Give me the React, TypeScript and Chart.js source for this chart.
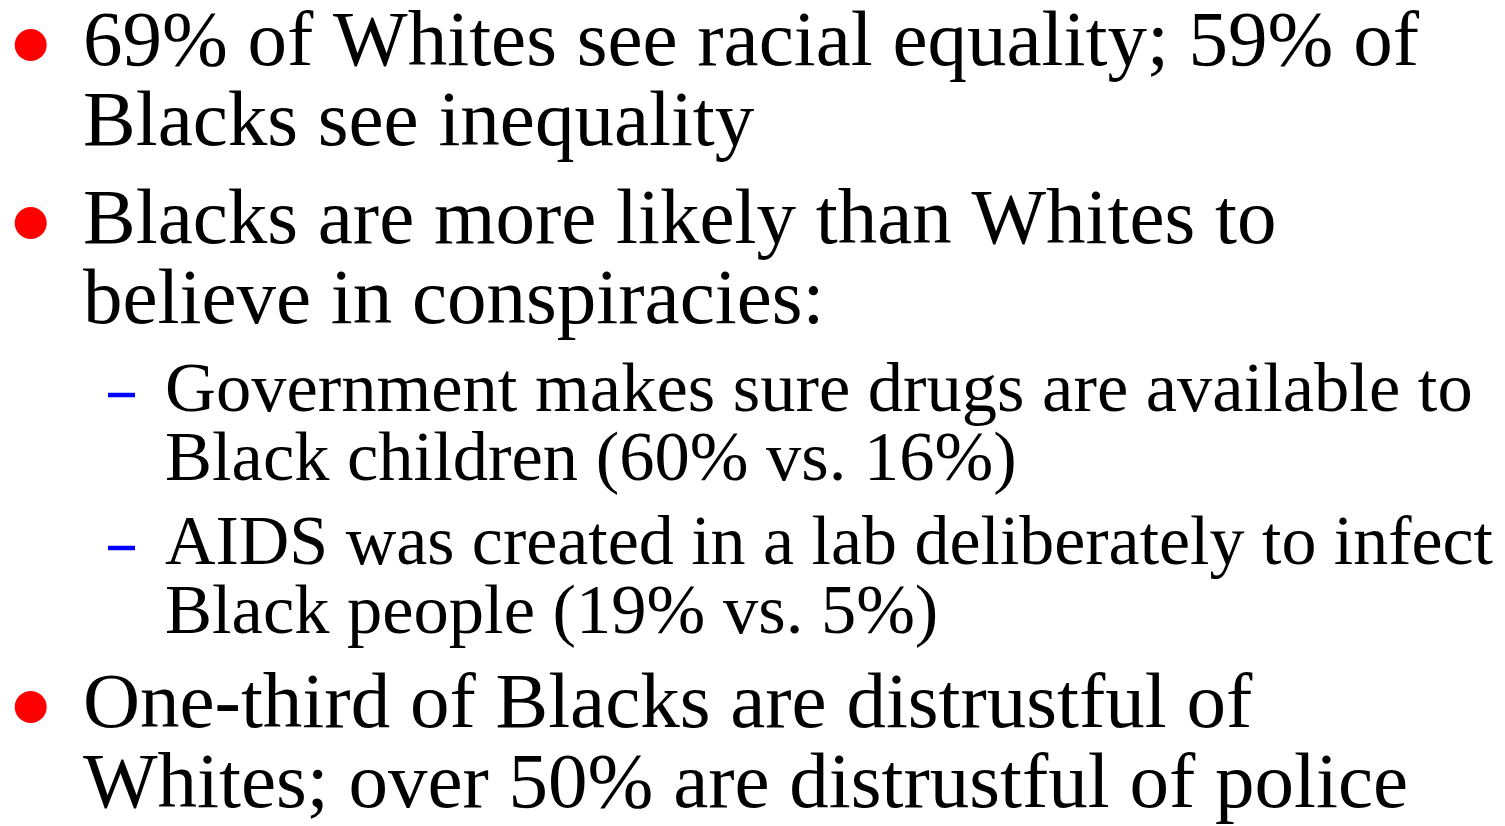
import React, { useEffect, useRef } from "react";
import { Chart, registerables } from "chart.js";

Chart.register(...registerables);

// ---- Slide content ----
const lineTexts: string[] = [
  "69% of Whites see racial equality; 59% of",
  "Blacks see inequality",
  "Blacks are more likely than Whites to",
  "believe in conspiracies:",
  "Government makes sure drugs are available to",
  "Black children (60% vs. 16%)",
  "AIDS was created in a lab deliberately to infect",
  "Black people (19% vs. 5%)",
  "One-third of Blacks are distrustful of",
  "Whites; over 50% are distrustful of police",
];
// indent level of each line (0 = main bullet, 1 = sub bullet)
const lineLevels: number[] = [0, 0, 0, 0, 1, 1, 1, 1, 0, 0];
// does the line start a new bullet item?
const lineStartsItem: boolean[] = [true, false, true, false, true, false, true, false, true, false];

// ---- Typography / layout (styles, not data) ----
const WIDTH = 1505;
const HEIGHT = 826;
const FONT_FAMILY = '"Liberation Serif", "Times New Roman", serif';
const FONT_SIZE = [79, 70.5];
const ASCENT = [58, 51];
const DESCENT = [22, 18];
const SPACE_BEFORE = [18, 15];
const TOP = 7;
const TEXT_X = [83, 165];
const MARKER_X = [30.7, 121.5];
const MARKER_RAISE = [20, 16];
const RIGHT_MARGIN = 12;

function computeBaselines(): number[] {
  const out: number[] = [];
  let y = TOP;
  lineLevels.forEach((lvl, i) => {
    if (i > 0) {
      y += DESCENT[lineLevels[i - 1]];
      if (lineStartsItem[i]) y += SPACE_BEFORE[lvl];
    }
    y += ASCENT[lvl];
    out.push(y);
  });
  return out;
}

export default function App() {
  const canvasRef = useRef<HTMLCanvasElement | null>(null);

  useEffect(() => {
    const prevMargin = document.body.style.margin;
    document.body.style.margin = "0";
    const canvas = canvasRef.current;
    if (!canvas) return;

    const baselines = computeBaselines();

    const mainBullets = lineTexts
      .map((_, i) => i)
      .filter((i) => lineStartsItem[i] && lineLevels[i] === 0)
      .map((i) => ({ x: MARKER_X[0], y: baselines[i] - MARKER_RAISE[0] }));
    const subBullets = lineTexts
      .map((_, i) => i)
      .filter((i) => lineStartsItem[i] && lineLevels[i] === 1)
      .map((i) => ({ x: MARKER_X[1], y: baselines[i] - MARKER_RAISE[1] }));

    const textPlugin = {
      id: "slideText",
      afterDatasetsDraw(chart: any) {
        const ctx = chart.ctx as CanvasRenderingContext2D;
        const xs = chart.scales.x;
        const ys = chart.scales.y;
        ctx.save();
        ctx.fillStyle = "#000000";
        ctx.textBaseline = "alphabetic";
        ctx.textAlign = "left";
        lineTexts.forEach((t, i) => {
          const lvl = lineLevels[i];
          ctx.font = `${FONT_SIZE[lvl]}px ${FONT_FAMILY}`;
          const px = xs.getPixelForValue(TEXT_X[lvl]);
          const maxW = chart.width - RIGHT_MARGIN - px;
          ctx.fillText(t, px, ys.getPixelForValue(baselines[i]), maxW);
        });
        ctx.restore();
      },
    };

    const chart = new Chart(canvas, {
      type: "scatter",
      data: {
        datasets: [
          {
            label: "main",
            data: mainBullets,
            pointStyle: "circle",
            pointRadius: 16,
            backgroundColor: "#ff0000",
            borderColor: "#ff0000",
            borderWidth: 0,
          },
          {
            label: "sub",
            data: subBullets,
            pointStyle: "line",
            pointRadius: 13.5,
            backgroundColor: "#0000ff",
            borderColor: "#0000ff",
            borderWidth: 4.5,
          },
        ],
      },
      options: {
        animation: false,
        responsive: false,
        maintainAspectRatio: false,
        events: [],
        layout: { padding: 0, autoPadding: false },
        plugins: {
          legend: { display: false },
          tooltip: { enabled: false },
          title: { display: false },
        },
        scales: {
          x: { type: "linear", min: 0, max: WIDTH, display: false },
          y: { type: "linear", min: 0, max: HEIGHT, reverse: true, display: false },
        },
      },
      plugins: [textPlugin],
    });

    return () => {
      chart.destroy();
      document.body.style.margin = prevMargin;
    };
  }, []);

  return (
    <div style={{ position: "fixed", left: 0, top: 0, width: WIDTH, height: HEIGHT, background: "#ffffff" }}>
      <canvas ref={canvasRef} width={WIDTH} height={HEIGHT} style={{ display: "block" }} />
    </div>
  );
}
